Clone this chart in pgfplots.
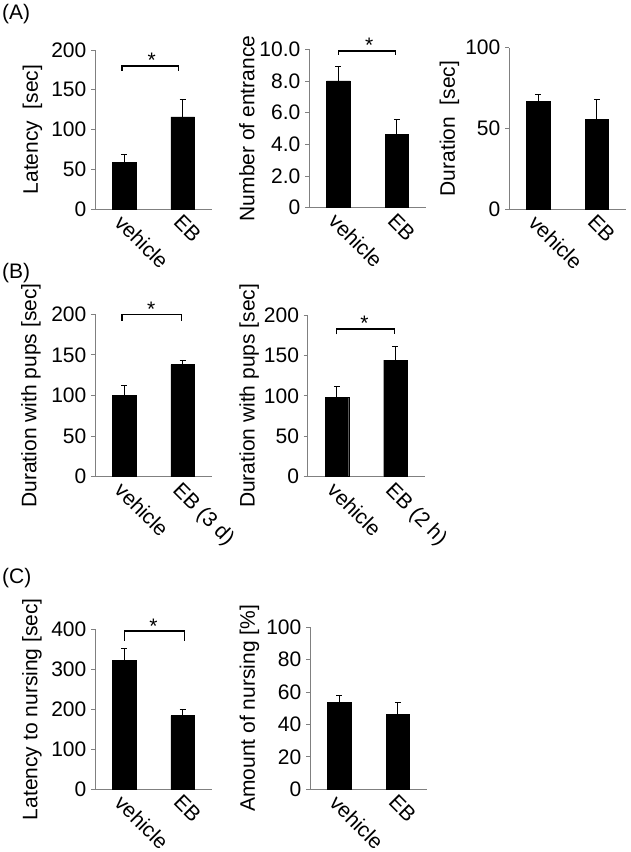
\documentclass[border=0pt]{standalone}
\usepackage{fontspec}
\setmainfont{Liberation Sans}
\usepackage{pgfplots}
\pgfplotsset{compat=1.18}
\definecolor{axgray}{RGB}{128,128,128}
\tikzset{sigstar/.style={anchor=base, inner sep=0pt, yshift=-2pt}}
\pgfplotsset{
  panel/.style={
    scale only axis,
    anchor=south west,
    width=117pt,
    xmin=0.5, xmax=2.5,
    ymin=0,
    axis x line*=bottom,
    axis y line*=left,
    axis line style={axgray, line width=0.9pt},
    xtick={1,2},
    tick align=outside,
    major tick length=4pt,
    xtick style={draw=none},
    ytick style={axgray, line width=0.9pt},
    font=\fontsize{21}{25}\selectfont,
    /pgf/number format/assume math mode=true,
    xticklabel style={rotate=-45, anchor=north west, inner sep=1pt, xshift=-1pt, yshift=1pt},
    yticklabel style={inner sep=4.5pt},
    every axis y label/.style={at={(axis description cs:-0.53,0.5)}, rotate=90, anchor=center},
    clip=false,
    bar width=23.5pt,
  },
  barplot/.style={ybar, bar shift=0pt, fill=black, draw=black,
    error bars/.cd, y dir=plus, y explicit,
    error bar style={black, line width=1pt},
    error mark options={rotate=90, mark size=3pt, black, line width=1pt}},
  brk/.style={black, line width=1.3pt, sharp plot, mark=none},
}
\begin{document}
\begin{tikzpicture}
\path[use as bounding box] (0,0) rectangle (630pt,852pt);
\node[anchor=west, inner sep=0pt, font=\fontsize{21}{25}\selectfont] at (2pt,837.5pt) {(A)};
\node[anchor=west, inner sep=0pt, font=\fontsize{21}{25}\selectfont] at (2pt,579pt) {(B)};
\node[anchor=west, inner sep=0pt, font=\fontsize{21}{25}\selectfont] at (2pt,274pt) {(C)};

% A1
\begin{axis}[panel, at={(95pt,643pt)}, height=159pt, ymax=200,
  ytick={0,50,100,150,200}, yticklabels={0,50,100,150,200},
  xticklabels={vehicle,EB}, ylabel={Latency\ \ [sec]},
  ylabel style={at={(axis description cs:-0.534,0.5)}}]
\addplot[barplot] coordinates {(1,58.7) +- (0,10.3) (2,116) +- (0,22)};
\addplot[brk] coordinates {(0.96,173.6) (0.96,180) (1.93,180) (1.93,173.6)};
\node[sigstar] at (axis cs:1.47,180) {*};
\end{axis}

% A2
\begin{axis}[panel, at={(309pt,644.3pt)}, height=158.4pt, ymax=10,
  ytick={0,2,4,6,8,10}, yticklabels={0,2.0,4.0,6.0,8.0,10.0},
  xticklabels={vehicle,EB}, ylabel={Number of entrance},
  ylabel style={at={(axis description cs:-0.53,0.5)}}]
\addplot[barplot] coordinates {(1,8.0) +- (0,0.9) (2,4.63) +- (0,0.91)};
\addplot[brk] coordinates {(1.0,9.64) (1.0,9.9) (1.98,9.9) (1.98,9.64)};
\node[sigstar] at (axis cs:1.53,9.9) {*};
\end{axis}

% A3
\begin{axis}[panel, at={(509pt,642.7pt)}, height=161.6pt, ymax=100,
  ytick={0,50,100}, yticklabels={0,50,100},
  xticklabels={vehicle,EB}, ylabel={Duration\ \ [sec]},
  ylabel style={at={(axis description cs:-0.51,0.5)}}]
\addplot[barplot] coordinates {(1,66.6) +- (0,4.6) (2,55.7) +- (0,12.4)};
\end{axis}

% B1
\begin{axis}[panel, at={(95pt,375.3pt)}, height=162.4pt, ymax=200,
  ytick={0,50,100,150,200}, yticklabels={0,50,100,150,200},
  xticklabels={vehicle,EB (3 d)}, ylabel={Duration with pups [sec]},
  ylabel style={at={(axis description cs:-0.547,0.5)}}]
\addplot[barplot] coordinates {(1,100) +- (0,12) (2,138) +- (0,5)};
\addplot[brk] coordinates {(0.96,192) (0.96,200) (1.98,200) (1.98,192)};
\node[sigstar] at (axis cs:1.46,200) {*};
\end{axis}

% B2
\begin{axis}[panel, at={(307.7pt,375.3pt)}, height=161.7pt, ymax=200,
  ytick={0,50,100,150,200}, yticklabels={0,50,100,150,200},
  xticklabels={vehicle,EB (2 h)}, ylabel={Duration with pups [sec]},
  ylabel style={at={(axis description cs:-0.50,0.5)}}]
\addplot[barplot] coordinates {(1,98.2) +- (0,12.8) (2,144.3) +- (0,16.5)};
\addplot[brk] coordinates {(0.99,176) (0.99,182.7) (1.98,182.7) (1.98,176)};
\node[sigstar] at (axis cs:1.47,182.7) {*};
\end{axis}

% C1
\begin{axis}[panel, at={(95pt,62.7pt)}, height=160.3pt, ymax=400,
  ytick={0,100,200,300,400}, yticklabels={0,100,200,300,400},
  xticklabels={vehicle,EB}, ylabel={Latency to nursing [sec]},
  ylabel style={at={(axis description cs:-0.538,0.5)}}]
\addplot[barplot] coordinates {(1,321) +- (0,31) (2,183.7) +- (0,16)};
\addplot[brk] coordinates {(1.01,371) (1.01,395) (2.03,395) (2.03,371)};
\node[sigstar] at (axis cs:1.5,395) {*};
\end{axis}

% C2
\begin{axis}[panel, at={(310pt,62.7pt)}, height=162pt, ymax=100,
  ytick={0,20,40,60,80,100}, yticklabels={0,20,40,60,80,100},
  xticklabels={vehicle,EB}, ylabel={Amount of nursing [\%]},
  ylabel style={at={(axis description cs:-0.517,0.5)}}]
\addplot[barplot] coordinates {(1,53.5) +- (0,4.7) (2,46.3) +- (0,7.2)};
\end{axis}
\end{tikzpicture}
\end{document}
